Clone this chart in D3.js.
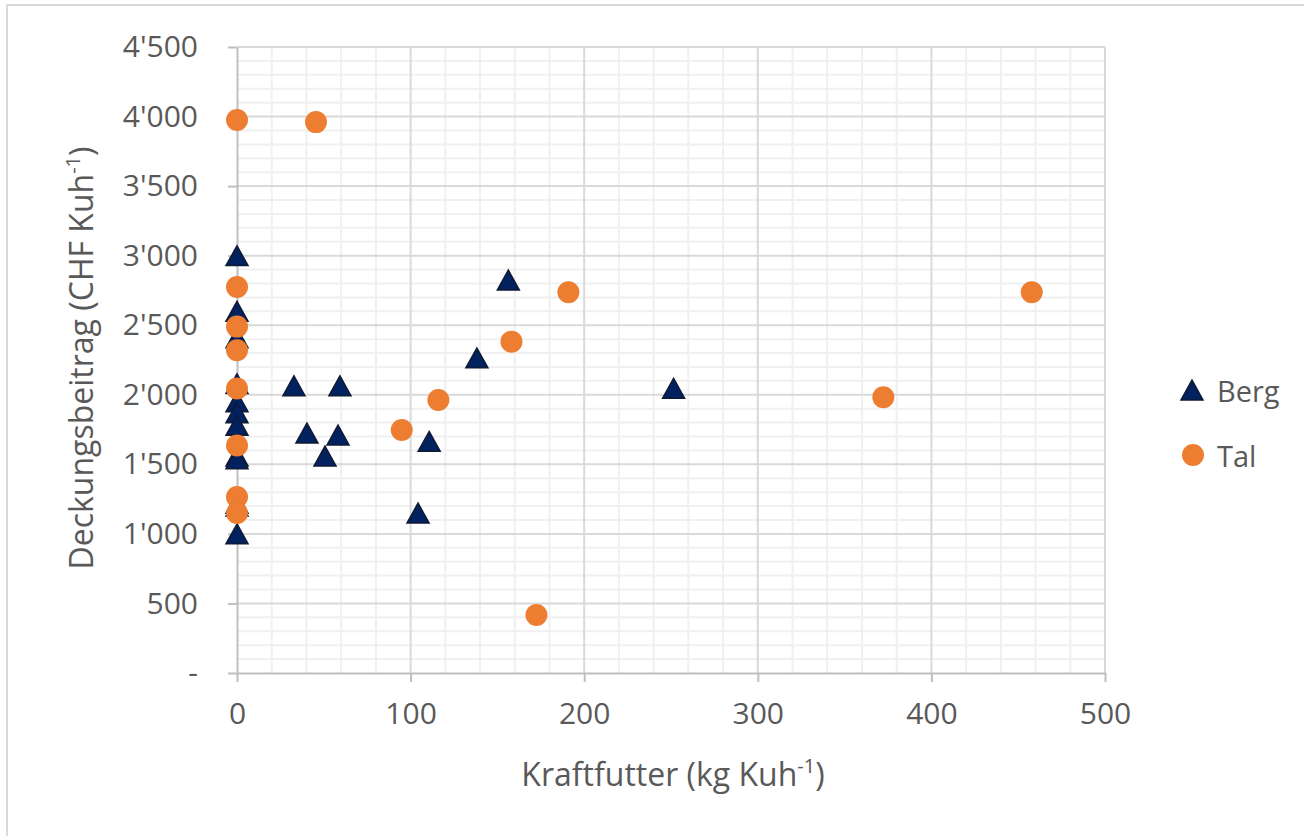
<!DOCTYPE html>
<html>
<head>
<meta charset="utf-8">
<script src="https://cdn.jsdelivr.net/npm/d3@7"></script>
<style>
  body { margin: 0; background: #fff; }
  text { font-family: "Open Sans", "Noto Sans", sans-serif; }
</style>
</head>
<body>
<script>
// values (kg Kuh-1 / CHF Kuh-1)
var bergX = [0, 0, 0, 0, 0, 0, 0, 0, 0, 0, 0, 0, 32.8, 59.3, 40.3, 58.2, 50.7, 110.7, 104.3, 138.2, 156.3, 251.5]
var bergY = [3000, 2600, 2410, 2080, 1950, 1870, 1780, 1560, 1540, 1200, 1000, 1220, 2065, 2065, 1725, 1711, 1560, 1665, 1150, 2265, 2825, 2047]
var talX = [0, 0, 0, 0, 0, 0, 0, 0, 45.5, 94.9, 116, 158.1, 190.9, 172.5, 372.3, 457.8]
var talY = [3975, 2775, 2490, 2320, 2045, 1635, 1265, 1150, 3960, 1747, 1963, 2382, 2737, 417, 1982, 2737]

var xTicks = [0, 100, 200, 300, 400, 500]
var yTicks = [0, 500, 1000, 1500, 2000, 2500, 3000, 3500, 4000, 4500]
var yTickLabels = ["-", "500", "1'000", "1'500", "2'000", "2'500", "3'000", "3'500", "4'000", "4'500"]
var seriesNames = ["Berg", "Tal"]

//define svg "screen"
var svg = d3.select("body").append("svg")
    .attr("width", 1304)
    .attr("height", 836)

// outer chart frame (only top and left edges are in the shot)
svg.append("rect")
  .attr("x", 7).attr("y", 5)
  .attr("width", 1400).attr("height", 900)
  .style("fill", "white")
  .style("stroke", "#d9d9d9")
  .style("stroke-width", 2)

//scales
var x = d3.scaleLinear().domain([0, 500]).range([237, 1105])
var y = d3.scaleLinear().domain([0, 4500]).range([673, 47])

var grid = svg.append('g').attr('class', 'grid')
    gAxis = svg.append('g').attr('class', 'axes'),
    gPts = svg.append('g').attr('class', 'points'),
    gLeg = svg.append('g').attr('class', 'legend');

// minor grid : every 20 on x, every 100 on y
grid.selectAll('.vminor')
  .data(d3.range(20, 501, 20).filter(d => d % 100 != 0))
  .enter().append('line')
  .attr('x1', d => x(d)).attr('x2', d => x(d))
  .attr('y1', y(0)).attr('y2', y(4500))
  .style('stroke', '#f0f0f0').style('stroke-width', 2)

grid.selectAll('.hminor')
  .data(d3.range(100, 4501, 100).filter(d => d % 500 != 0))
  .enter().append('line')
  .attr('x1', x(0)).attr('x2', x(500))
  .attr('y1', d => y(d)).attr('y2', d => y(d))
  .style('stroke', '#f0f0f0').style('stroke-width', 2)

// major grid
grid.selectAll('.vmajor')
  .data(xTicks.slice(1))
  .enter().append('line')
  .attr('x1', d => x(d)).attr('x2', d => x(d))
  .attr('y1', y(0)).attr('y2', y(4500))
  .style('stroke', '#d9d9d9').style('stroke-width', 2)

grid.selectAll('.hmajor')
  .data(yTicks.slice(1))
  .enter().append('line')
  .attr('x1', x(0)).attr('x2', x(500))
  .attr('y1', d => y(d)).attr('y2', d => y(d))
  .style('stroke', '#d9d9d9').style('stroke-width', 2)

// axes (d3 axes, restyled excel-like)
var xAxis = gAxis.append('g')
  .attr('transform', 'translate(0,' + y(0) + ')')
  .call(d3.axisBottom(x).tickValues(xTicks).tickSize(9).tickPadding(21).tickSizeOuter(0))

var yAxis = gAxis.append('g')
  .attr('transform', 'translate(' + x(0) + ',0)')
  .call(d3.axisLeft(y).tickValues(yTicks).tickSize(9).tickPadding(30).tickSizeOuter(0)
        .tickFormat((d, i) => yTickLabels[i]))

gAxis.selectAll('.domain, .tick line')
  .style('stroke', '#bfbfbf')
  .style('stroke-width', 2)

gAxis.selectAll('.tick text')
  .attr('font-family', '"Open Sans", sans-serif')
  .attr('font-size', '30px')
  .attr('fill', '#595959')

// axis titles
var xTitle = svg.append('text')
  .attr('x', 673).attr('y', 786)
  .attr('text-anchor', 'middle')
  .attr('font-size', '32px')
  .attr('fill', '#595959')
xTitle.append('tspan').text('Kraftfutter (kg Kuh')
xTitle.append('tspan').text('-1').attr('font-size', '20px').attr('dy', -13)
xTitle.append('tspan').text(')').attr('dy', 13)

var yTitle = svg.append('text')
  .attr('transform', 'translate(93,' + 358 + ') rotate(-90)')
  .attr('text-anchor', 'middle')
  .attr('font-size', '32px')
  .attr('fill', '#595959')
yTitle.append('tspan').text('Deckungsbeitrag (CHF Kuh')
yTitle.append('tspan').text('-1').attr('font-size', '20px').attr('dy', -13)
yTitle.append('tspan').text(')').attr('dy', 13)

// triangle marker, centred on its bounding box like excel does
function tri(s) {
  var p = d3.path()
  p.moveTo(0, -s * 0.9)
  p.lineTo(s, s * 0.9)
  p.lineTo(-s, s * 0.9)
  p.closePath()
  return p.toString()
}

// Berg (drawn first, Tal goes over it)
gPts.selectAll('.berg')
  .data(d3.range(bergX.length))
  .enter().append('path')
  .attr('class', 'berg')
  .attr('d', tri(11))
  .attr('transform', i => 'translate(' + x(bergX[i]) + ',' + y(bergY[i]) + ')')
  .style('fill', '#02215f')
  .style('stroke', '#101a33')
  .style('stroke-width', 1.5)

// Tal
gPts.selectAll('.tal')
  .data(d3.range(talX.length))
  .enter().append('circle')
  .attr('class', 'tal')
  .attr('cx', i => x(talX[i]))
  .attr('cy', i => y(talY[i]))
  .attr('r', 11)
  .style('fill', '#ed7d31')

//legend
gLeg.append('path')
  .attr('d', tri(11))
  .attr('transform', 'translate(1192,390)')
  .style('fill', '#02215f')
  .style('stroke', '#101a33')
  .style('stroke-width', 1.5)

gLeg.append('circle')
  .attr('cx', 1193)
  .attr('cy', 455)
  .attr('r', 11)
  .style('fill', '#ed7d31')

gLeg.selectAll('.legtext')
  .data(seriesNames)
  .enter().append('text')
  .attr('x', 1217)
  .attr('y', (d, i) => 402 + i * 65)
  .text(d => d)
  .attr('font-size', '29px')
  .attr('fill', '#595959')
</script>
</body>
</html>
